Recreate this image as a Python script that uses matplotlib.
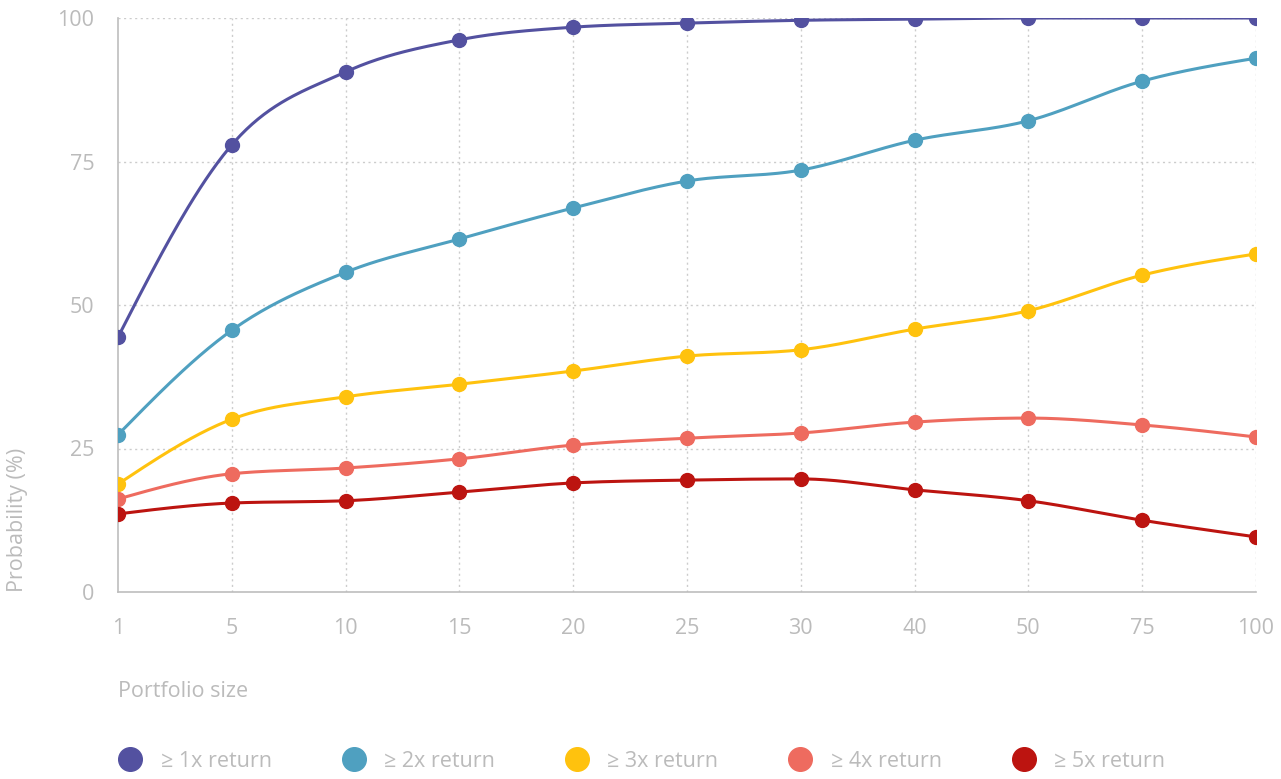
import matplotlib
matplotlib.use("Agg")
import matplotlib.pyplot as plt
from matplotlib.lines import Line2D
import numpy as np

# categories on the x axis (equally spaced)
sizes = ["1", "5", "10", "15", "20", "25", "30", "40", "50", "75", "100"]

ret_1x = [44.4, 77.9, 90.6, 96.2, 98.4, 99.1, 99.6, 99.8, 100.0, 100.0, 100.0]
ret_2x = [27.4, 45.6, 55.7, 61.5, 66.9, 71.6, 73.5, 78.7, 82.1, 89.0, 93.0]
ret_3x = [18.8, 30.1, 34.0, 36.2, 38.5, 41.1, 42.2, 45.8, 49.0, 55.2, 58.9]
ret_4x = [16.2, 20.6, 21.6, 23.2, 25.6, 26.8, 27.7, 29.6, 30.3, 29.1, 27.0]
ret_5x = [13.6, 15.5, 15.9, 17.4, 19.0, 19.5, 19.7, 17.8, 15.9, 12.5, 9.6]

labels = ["≥ 1x return", "≥ 2x return", "≥ 3x return", "≥ 4x return", "≥ 5x return"]
colors = ["#5351A0", "#4FA0C0", "#FFC20E", "#EE6B5F", "#BC1410"]

GREY = "#BBBBBB"
FS = 15.5
plt.rcParams["font.family"] = ["Open Sans", "DejaVu Sans"]


def monotone_curve(xs, ys, n=40):
    """monotone cubic interpolation (same idea as d3 curveMonotoneX)"""
    xs = np.asarray(xs, float)
    ys = np.asarray(ys, float)
    h = np.diff(xs)
    s = np.diff(ys) / h
    t = np.zeros(len(xs))
    for i in range(1, len(xs) - 1):
        if s[i - 1] * s[i] <= 0:
            t[i] = 0
        else:
            p = (s[i - 1] * h[i] + s[i] * h[i - 1]) / (h[i - 1] + h[i])
            t[i] = (np.sign(s[i - 1]) + np.sign(s[i])) * min(abs(s[i - 1]), abs(s[i]), 0.5 * abs(p))
    t[0] = (3 * s[0] - t[1]) / 2
    t[-1] = (3 * s[-1] - t[-2]) / 2
    out_x, out_y = [], []
    for i in range(len(xs) - 1):
        u = np.linspace(0, 1, n)
        h00 = 2 * u**3 - 3 * u**2 + 1
        h10 = u**3 - 2 * u**2 + u
        h01 = -2 * u**3 + 3 * u**2
        h11 = u**3 - u**2
        out_x.extend(xs[i] + u * h[i])
        out_y.extend(h00 * ys[i] + h10 * h[i] * t[i] + h01 * ys[i + 1] + h11 * h[i] * t[i + 1])
    return out_x, out_y


fig = plt.figure(figsize=(12.81, 7.79), dpi=100)
ax = fig.add_axes([118 / 1281, 1 - 592 / 779, (1256 - 118) / 1281, (592 - 18) / 779])

x = np.arange(len(sizes))
series = [ret_1x, ret_2x, ret_3x, ret_4x, ret_5x]
for vals, col, lab in zip(series, colors, labels):
    cx, cy = monotone_curve(x, vals)
    ax.plot(cx, cy, color=col, lw=2.2, zorder=3, solid_capstyle="round")
    ax.plot(x, vals, "o", color=col, ms=10, zorder=4, label=lab)

ax.set_xlim(0, len(sizes) - 1)
ax.set_ylim(0, 100)
ax.set_xticks(x)
ax.set_xticklabels(sizes)
ax.set_yticks([0, 25, 50, 75, 100])

for v in [25, 50, 75, 100]:
    ax.axhline(v, color="#CCCCCC", lw=1, ls=(0, (1.5, 2.5)), zorder=1)
for xi in x[1:]:
    ax.axvline(xi, color="#CCCCCC", lw=1, ls=(0, (1.5, 2.5)), zorder=1)

for side in ["top", "right"]:
    ax.spines[side].set_visible(False)
for side in ["left", "bottom"]:
    ax.spines[side].set_color("#BDBDBD")
    ax.spines[side].set_linewidth(1.2)

ax.tick_params(length=0, labelsize=FS, labelcolor=GREY)
ax.tick_params(axis="x", pad=19)
ax.tick_params(axis="y", pad=17)

ax.set_ylabel("Probability (%)", loc="bottom", color=GREY, fontsize=FS, labelpad=21)
ax.set_xlabel("Portfolio size", loc="left", color=GREY, fontsize=FS, labelpad=30)

handles = [Line2D([], [], marker="o", ls="none", color=c, ms=17) for c in colors]
fig.legend(handles, labels, loc="center left", bbox_to_anchor=(111 / 1281, 1 - 761 / 779),
           ncol=5, frameon=False, fontsize=FS, labelcolor=GREY,
           handlelength=1.0, handletextpad=0.9, columnspacing=3.32, borderaxespad=0)

fig.savefig("out.png", dpi=100)
